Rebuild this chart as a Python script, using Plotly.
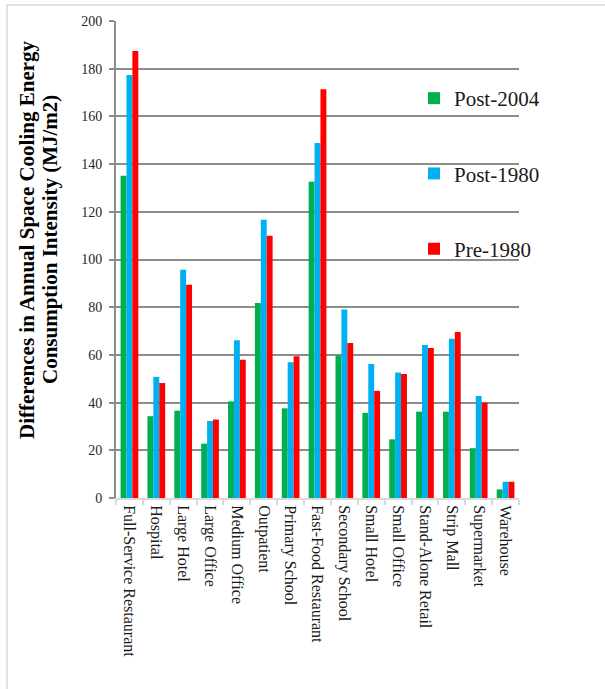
import plotly.graph_objects as go

# Building types along the x axis
building_types = [
    "Full-Service Restaurant", "Hospital", "Large Hotel", "Large Office",
    "Medium Office", "Outpatient", "Primary School", "Fast-Food Restaurant",
    "Secondary School", "Small Hotel", "Small Office", "Stand-Alone Retail",
    "Strip Mall", "Supermarket", "Warehouse",
]

# Differences in annual space cooling energy consumption intensity (MJ/m2)
post_2004 = [135.1, 34.3, 36.6, 22.8, 40.5, 81.8, 37.6, 132.6, 59.7, 35.7, 24.6, 36.2, 36.2, 20.9, 3.6]
post_1980 = [177.4, 50.8, 95.7, 32.3, 66.1, 116.7, 56.9, 148.8, 79.0, 56.2, 52.6, 64.2, 66.8, 42.8, 6.8]
pre_1980 = [187.4, 48.2, 89.4, 32.9, 58.0, 110.0, 59.4, 171.4, 65.0, 44.9, 52.0, 62.9, 69.6, 40.0, 6.8]

y_ticks = [0, 20, 40, 60, 80, 100, 120, 140, 160, 180, 200]

series = [
    ("Post-2004", post_2004, "#00B050"),
    ("Post-1980", post_1980, "#00B0F0"),
    ("Pre-1980", pre_1980, "#FF0000"),
]

SERIF = "Liberation Serif"

fig = go.Figure()
for name, values, color in series:
    fig.add_trace(go.Bar(
        x=building_types, y=values, name=name,
        marker=dict(color=color, line=dict(width=0)),
        legendgroup=name,
    ))

W, H = 605, 689
L, R, T, B = 116, 86, 21, 191
pw, ph = W - L - R, H - T - B


def px_x(px):
    return (px - L) / pw


def px_y(py):
    return (H - B - py) / ph


fig.update_layout(
    width=W, height=H,
    margin=dict(l=L, r=R, t=T, b=B, autoexpand=False),
    paper_bgcolor="white", plot_bgcolor="white",
    barmode="group", bargap=0.34, bargroupgap=0,
    font=dict(family=SERIF, color="#262626"),
    legend=dict(
        x=px_x(414), y=px_y(78), xanchor="left", yanchor="top",
        bgcolor="rgba(0,0,0,0)", font=dict(size=21, family=SERIF, color="#1a1a1a"),
        tracegroupgap=45, itemwidth=30,
    ),
    showlegend=True,
)

fig.update_xaxes(
    type="category", tickangle=90, tickfont=dict(size=16, family=SERIF, color="#1a1a1a"),
    showline=True, linecolor="#d9d9d9", linewidth=2,
    ticks="outside", tickson="boundaries", ticklen=5, tickcolor="#d9d9d9", tickwidth=2,
    showgrid=False, ticklabelstandoff=2,
)
fig.update_yaxes(
    range=[0, 200], tickvals=y_ticks, tickfont=dict(size=14, family=SERIF, color="#262626"),
    showgrid=True, gridcolor="#8c8c8c", gridwidth=2, zeroline=False,
    showline=True, linecolor="#8c8c8c", linewidth=2,
    ticks="outside", ticklen=5, tickcolor="#8c8c8c", tickwidth=2,
    ticklabelstandoff=4,
)

# Two-line bold axis title, lines stacked left to right
title_lines = [
    ("Differences in Annual Space Cooling Energy", 27),
    ("Consumption Intensity (MJ/m2)", 50),
]
for text, cx in title_lines:
    fig.add_annotation(
        text=f"<b>{text}</b>", textangle=-90, showarrow=False,
        xref="paper", yref="paper", x=px_x(cx), y=px_y(240),
        xanchor="center", yanchor="middle",
        font=dict(size=21, family=SERIF, color="#000000"),
    )

# Light frame around the chart
fig.add_shape(
    type="rect", xref="paper", yref="paper",
    x0=px_x(7), y0=px_y(5), x1=px_x(W + 20), y1=px_y(H + 20),
    line=dict(color="#d9d9d9", width=1.5), fillcolor="rgba(0,0,0,0)", layer="below",
)

fig.write_html("out.html")
